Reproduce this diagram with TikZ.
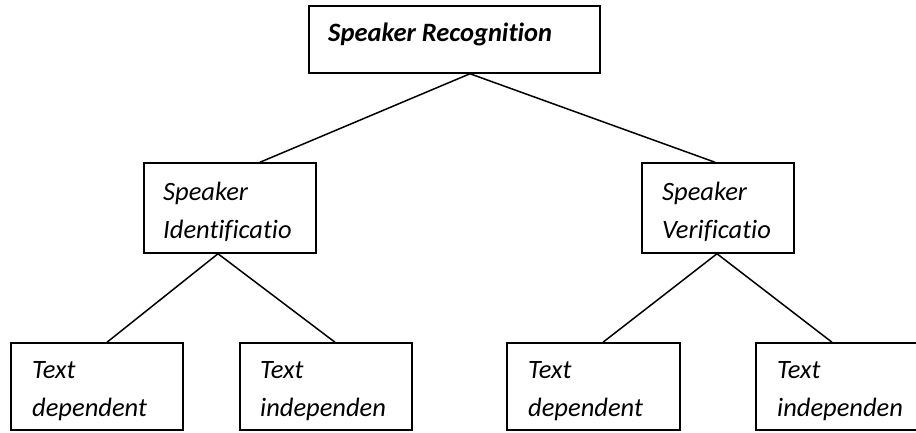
\documentclass[tikz,border=0pt]{standalone}
\usepackage{fontspec}
\setmainfont{Carlito}[Ligatures=NoCommon]
\usetikzlibrary{calc}
\begin{document}
\begin{tikzpicture}[x=1pt,y=1pt,
  box/.style={draw, line width=1.5pt, rectangle, inner sep=0pt},
  txt/.style={anchor=base west, inner sep=0pt, font=\fontsize{26.5}{30}\selectfont\itshape},
  ttl/.style={anchor=base west, inner sep=0pt, font=\fontsize{26.5}{30}\selectfont\bfseries\itshape},
  link/.style={line width=1.5pt}]
\useasboundingbox (0,0) rectangle (916,432);
\begin{scope}
\clip (0,0) rectangle (916,432);
% boxes
\node[box, minimum width=291pt, minimum height=67pt] (root) at (454.5,392.5) {};
\node[box, minimum width=172pt, minimum height=90pt] (ident) at (230,224) {};
\node[box, minimum width=152pt, minimum height=90pt] (verif) at (718,224) {};
\node[box, minimum width=172pt, minimum height=87pt] (idDep) at (97,45.5) {};
\node[box, minimum width=172pt, minimum height=87pt] (idInd) at (326,45.5) {};
\node[box, minimum width=173pt, minimum height=87pt] (vDep) at (593.5,45.5) {};
\node[box, minimum width=180pt, minimum height=87pt] (vInd) at (846,45.5) {};
% labels
\node[ttl] (rootT) at (328,390) {Speaker Recognition};
\node[txt] (identA) at (163,232) {Speaker};
\node[txt] (identB) at (163,194) {Identificatio};
\node[txt] (verifA) at (662,232) {Speaker};
\node[txt] (verifB) at (662,194) {Verificatio};
\node[txt] (idDepA) at (32,54) {Text};
\node[txt] (idDepB) at (32,16) {dependent};
\node[txt] (idIndA) at (260,54) {Text};
\node[txt] (idIndB) at (260,16) {independen};
\node[txt] (vDepA) at (528,54) {Text};
\node[txt] (vDepB) at (528,16) {dependent};
\node[txt] (vIndA) at (777,54) {Text};
\node[txt] (vIndB) at (777,16) {independen};
% connectors
\draw[link] ($(ident.north)+(30,0)$) -- ($(root.south)+(15.5,0)$) -- ($(verif.north)+(-3,0)$);
\draw[link] ($(idDep.north)+(10,0)$) -- ($(ident.south)+(-12,0)$) -- ($(idInd.north)+(9,0)$);
\draw[link] ($(vDep.north)+(9.5,0)$) -- ($(verif.south)+(-1,0)$) -- ($(vInd.north)+(-14,0)$);
\end{scope}
\end{tikzpicture}
\end{document}
